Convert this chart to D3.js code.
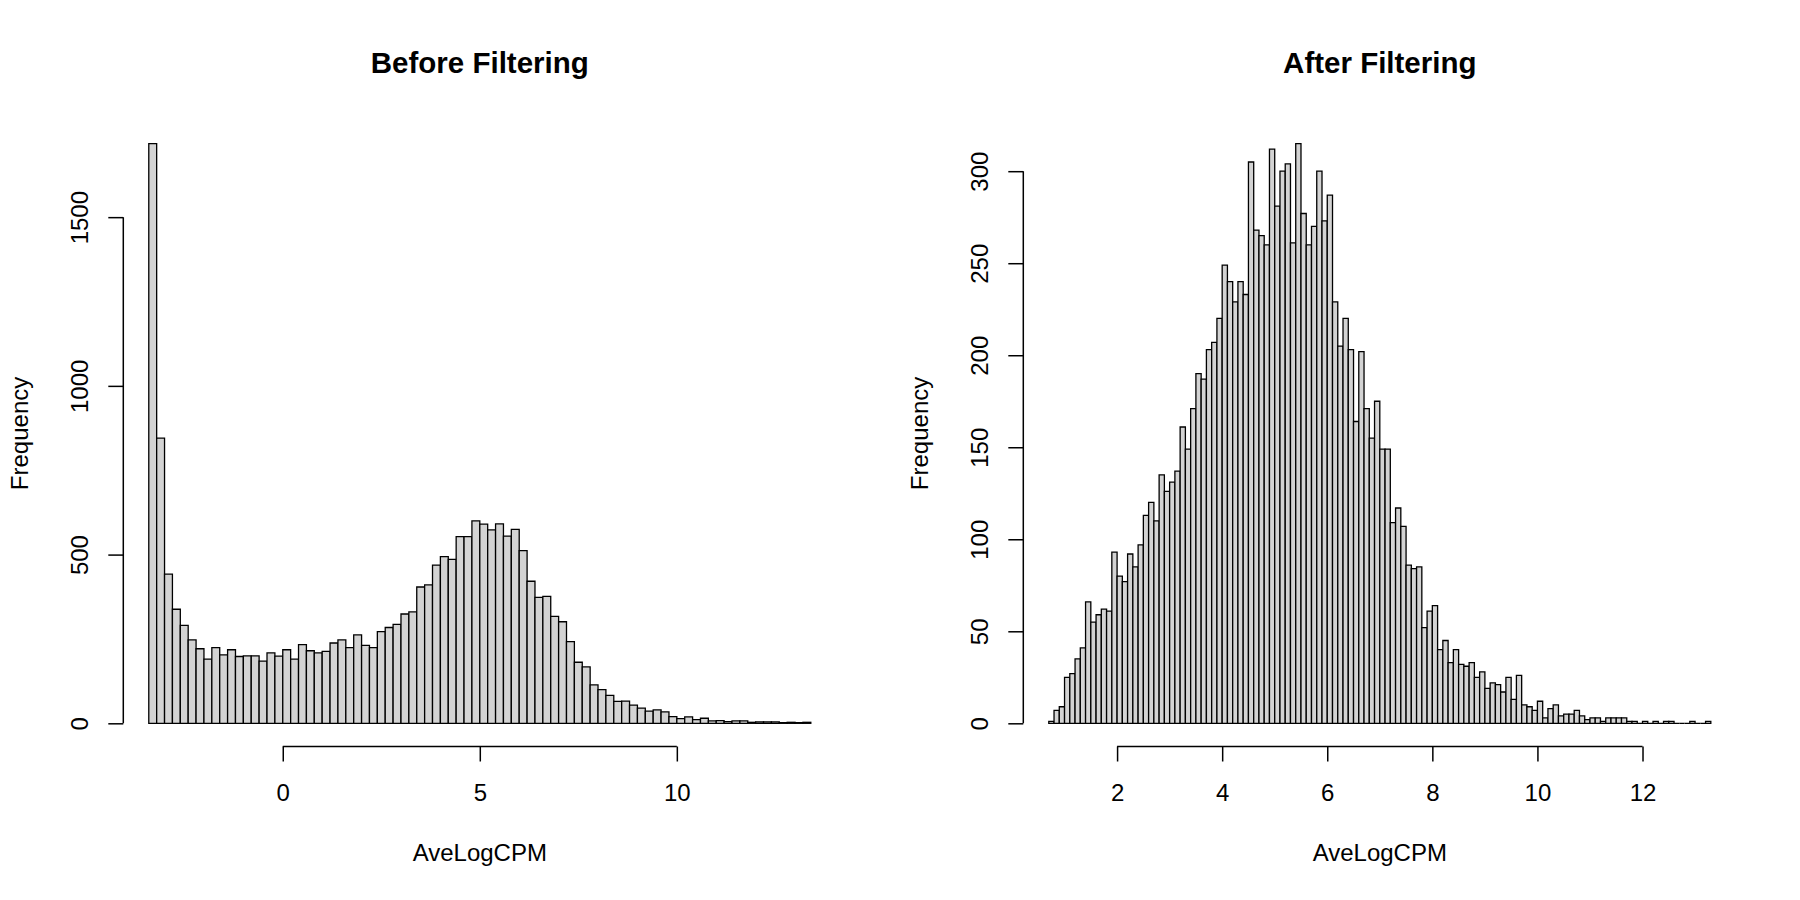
<!DOCTYPE html>
<html>
<head>
<meta charset="utf-8">
<script src="https://cdn.jsdelivr.net/npm/d3@7"></script>
<style>
  body { margin: 0; background: #fff; }
  svg { display: block; }
</style>
</head>
<body>
<div id="chart"></div>
<script>
// Two histograms of AveLogCPM, before and after filtering (R hist() look)

// ---- data ----
var beforeBreakStart = -3.4;
var beforeBinWidth = 0.2;
var beforeCounts = [
  1718, 845, 442, 338, 290, 247, 221, 190, 224, 203, 218, 198, 200, 200, 184, 209, 199,
  218, 190, 233, 215, 209, 213, 238, 247, 224, 262,
  231, 224, 272, 284, 293, 324, 330, 404, 410, 469,
  494, 486, 553, 553, 600, 590, 573, 591, 555, 575,
  512, 421, 373, 376, 317, 301, 242, 181, 167, 114,
  100, 83, 65, 66, 54, 45, 36, 40, 34, 20,
  14, 19, 11, 15, 7, 8, 5, 7, 7, 3,
  4, 4, 4, 2, 3, 2, 3
];
var beforeXTicks = [0, 5, 10];
var beforeYTicks = [0, 500, 1000, 1500];

var afterBreakStart = 0.7;
var afterBinWidth = 0.1;
var afterCounts = [
  1, 7, 9, 25, 27, 35, 41, 66, 55, 59,
  62, 61, 93, 80, 77, 92, 85, 97, 113, 120,
  110, 135, 126, 131, 137, 161, 149, 171, 190, 187,
  203, 207, 220, 249, 240, 229, 240, 233, 305, 268,
  265, 260, 312, 281, 300, 304, 261, 315, 277, 260,
  270, 300, 273, 287, 229, 205, 220, 203, 164, 202,
  171, 155, 175, 149, 149, 109, 117, 107, 86, 84,
  85, 52, 61, 64, 40, 45, 33, 40, 32, 31,
  33, 25, 28, 19, 22, 21, 17, 25, 13, 26,
  10, 9, 7, 12, 3, 8, 10, 4, 5, 5,
  7, 4, 2, 3, 3, 1, 3, 3, 3, 3,
  1, 1, 0, 1, 0, 1, 0, 1, 1, 0,
  0, 0, 1, 0, 0, 1
];
var afterXTicks = [2, 4, 6, 8, 10, 12];
var afterYTicks = [0, 50, 100, 150, 200, 250, 300];

var panelTitles = ["Before Filtering", "After Filtering"];
var xLabel = "AveLogCPM";
var yLabel = "Frequency";

// ---- layout ----
var svgWidth = 1800;
var svgHeight = 900;
var figWidth = 900;          // each panel gets half the page
var plot = { left: 122.3, right: 837.3, top: 120.4, bottom: 746.5 };
var tickLen = 15;
var font = "'Liberation Sans', Arial, Helvetica, sans-serif";

var svg = d3.select("#chart")
  .append("svg")
  .attr("width", svgWidth)
  .attr("height", svgHeight);

svg.append("rect")
  .attr("width", svgWidth)
  .attr("height", svgHeight)
  .attr("fill", "#fff");

//draws one histogram panel
function drawHist(offset, title, start, binWidth, counts, xTicks, yTicks) {
  var g = svg.append("g").attr("transform", `translate(${offset},0)`);

  // R pads both axis ranges by 4%
  var lo = start;
  var hi = start + counts.length * binWidth;
  var xPad = (hi - lo) * 0.04;
  var maxCount = d3.max(counts);

  var x = d3.scaleLinear()
    .domain([lo - xPad, hi + xPad])
    .range([plot.left, plot.right]);
  var y = d3.scaleLinear()
    .domain([-0.04 * maxCount, 1.04 * maxCount])
    .range([plot.bottom, plot.top]);

  var bins = counts.map(function(c, i) {
    return { x0: start + i * binWidth, x1: start + (i + 1) * binWidth, n: c };
  });

  // bars as paths so empty bins still leave a line on the baseline
  g.selectAll(".bar")
    .data(bins)
    .enter()
    .append("path")
    .attr("class", "bar")
    .attr("d", function(d) {
      return `M${x(d.x0)},${y(0)}H${x(d.x1)}V${y(d.n)}H${x(d.x0)}Z`;
    })
    .attr("fill", "#d3d3d3")
    .attr("stroke", "#000")
    .attr("stroke-width", 1.3);

  // x axis, line only between first and last tick
  var xAxis = g.append("g")
    .attr("transform", `translate(0,${plot.bottom})`)
    .call(d3.axisBottom(x).tickValues(xTicks).tickFormat(d3.format("d"))
      .tickSize(tickLen).tickSizeOuter(0));
  xAxis.select(".domain")
    .attr("d", `M${x(xTicks[0])},0H${x(xTicks[xTicks.length - 1])}`);
  xAxis.selectAll(".tick text")
    .attr("y", 54.3)
    .attr("dy", null);

  // y axis, labels rotated like R
  var yAxis = g.append("g")
    .attr("transform", `translate(${plot.left + 1},0)`)
    .call(d3.axisLeft(y).tickValues(yTicks).tickFormat(d3.format("d"))
      .tickSize(tickLen).tickSizeOuter(0));
  yAxis.select(".domain")
    .attr("d", `M0,${y(yTicks[0])}V${y(yTicks[yTicks.length - 1])}`);
  yAxis.selectAll(".tick text")
    .attr("x", null)
    .attr("dy", null)
    .attr("text-anchor", "middle")
    .attr("transform", "translate(-35,0) rotate(-90)");

  [xAxis, yAxis].forEach(function(a) {
    a.attr("font-family", font).attr("font-size", 24);
    a.selectAll("path, line").attr("stroke", "#000").attr("stroke-width", 1.5);
    a.selectAll("text").attr("fill", "#000");
  });

  var midX = (plot.left + plot.right) / 2;
  var midY = (plot.top + plot.bottom) / 2;

  g.append("text")
    .attr("x", midX)
    .attr("y", 73.3)
    .attr("text-anchor", "middle")
    .attr("font-family", font)
    .attr("font-weight", "bold")
    .attr("font-size", 29.5)
    .text(title);

  g.append("text")
    .attr("x", midX)
    .attr("y", 860.7)
    .attr("text-anchor", "middle")
    .attr("font-family", font)
    .attr("font-size", 24)
    .text(xLabel);

  g.append("text")
    .attr("transform", `translate(28.3,${midY}) rotate(-90)`)
    .attr("text-anchor", "middle")
    .attr("font-family", font)
    .attr("font-size", 24)
    .text(yLabel);
}

drawHist(0, panelTitles[0], beforeBreakStart, beforeBinWidth, beforeCounts, beforeXTicks, beforeYTicks);
drawHist(figWidth, panelTitles[1], afterBreakStart, afterBinWidth, afterCounts, afterXTicks, afterYTicks);
</script>
</body>
</html>
